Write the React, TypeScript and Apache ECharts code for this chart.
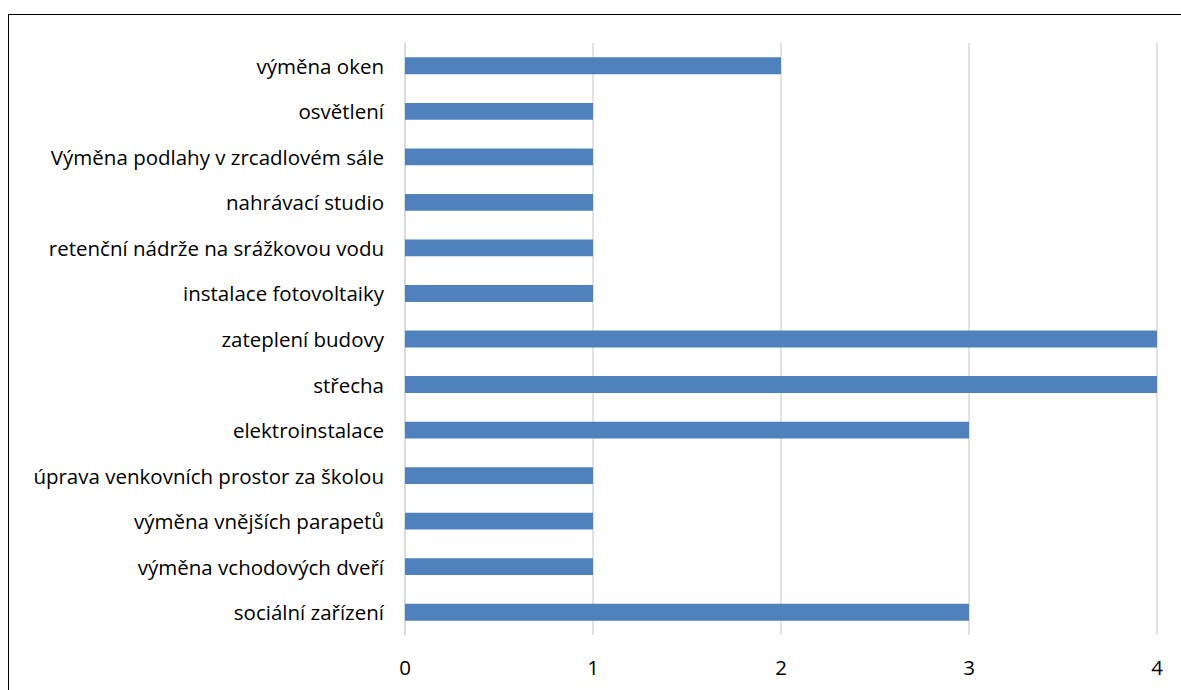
import React, { useEffect, useRef } from "react";
import * as echarts from "echarts";

const categories = [
  "sociální zařízení",
  "výměna vchodových dveří",
  "výměna vnějších parapetů",
  "úprava venkovních prostor za školou",
  "elektroinstalace",
  "střecha",
  "zateplení budovy",
  "instalace fotovoltaiky",
  "retenční nádrže na srážkovou vodu",
  "nahrávací studio",
  "Výměna podlahy v zrcadlovém sále",
  "osvětlení",
  "výměna oken",
];
const values = [3, 1, 1, 1, 3, 4, 4, 1, 1, 1, 1, 1, 2];
const xTicks = [0, 1, 2, 3, 4];

export default function App() {
  const ref = useRef<HTMLDivElement>(null);
  useEffect(() => {
    if (!ref.current) return;
    const chart = echarts.init(ref.current, null, { renderer: "svg" });
    const font = "'Open Sans', sans-serif";
    chart.setOption({
      animation: false,
      grid: { left: 405, right: 24, top: 43, bottom: 55, containLabel: false },
      xAxis: {
        type: "value",
        min: xTicks[0],
        max: xTicks[xTicks.length - 1],
        interval: 1,
        axisLine: { show: false },
        axisTick: { show: false },
        splitLine: { show: true, lineStyle: { color: "#d9d9d9", width: 1.5 } },
        axisLabel: { color: "#000", fontSize: 20.5, fontFamily: font, margin: 21 },
      },
      yAxis: {
        type: "category",
        data: categories,
        axisLine: { show: true, lineStyle: { color: "#d9d9d9", width: 1.5 } },
        axisTick: { show: false },
        axisLabel: { color: "#000", fontSize: 20.5, fontFamily: font, margin: 21 },
      },
      series: [
        {
          type: "bar",
          data: values,
          barCategoryGap: "63%",
          itemStyle: { color: "#4f81bd" },
        },
      ],
    });
    return () => chart.dispose();
  }, []);
  return (
    <div style={{ position: "fixed", left: 0, top: 0, width: 1181, height: 690, background: "#fff", overflow: "hidden" }}>
      <div
        style={{
          position: "absolute",
          left: 8,
          top: 14,
          width: 1250,
          height: 750,
          border: "1.5px solid #000",
          boxSizing: "border-box",
        }}
      />
      <div ref={ref} style={{ position: "absolute", left: 0, top: 0, width: 1181, height: 690 }} />
    </div>
  );
}
